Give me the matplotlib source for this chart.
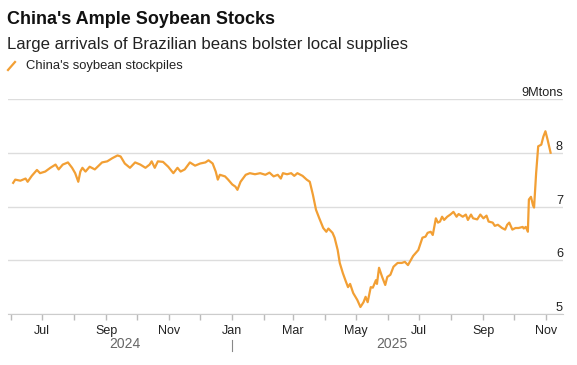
import matplotlib
matplotlib.use("Agg")
import matplotlib.pyplot as plt
import matplotlib.dates as mdates
import matplotlib.transforms as mtransforms
import numpy as np

plt.rcParams['font.family'] = ['Liberation Sans', 'DejaVu Sans']

# China's soybean stockpiles, million tons
dates = [
    "2024-06-03", "2024-06-05", "2024-06-10", "2024-06-15", "2024-06-17",
    "2024-06-21", "2024-06-26", "2024-06-29", "2024-07-04", "2024-07-09",
    "2024-07-14", "2024-07-17", "2024-07-21", "2024-07-26", "2024-07-30",
    "2024-08-02", "2024-08-05", "2024-08-07", "2024-08-09", "2024-08-12",
    "2024-08-16", "2024-08-21", "2024-08-28", "2024-09-02", "2024-09-07",
    "2024-09-12", "2024-09-15", "2024-09-19", "2024-09-24", "2024-09-29",
    "2024-10-04", "2024-10-09", "2024-10-13", "2024-10-15", "2024-10-18",
    "2024-10-21", "2024-10-26", "2024-10-31", "2024-11-05", "2024-11-09",
    "2024-11-12", "2024-11-16", "2024-11-21", "2024-11-26", "2024-12-01",
    "2024-12-06", "2024-12-09", "2024-12-13", "2024-12-16", "2024-12-18",
    "2024-12-20", "2024-12-25", "2024-12-28", "2025-01-01", "2025-01-04",
    "2025-01-06", "2025-01-09", "2025-01-14", "2025-01-18", "2025-01-23",
    "2025-01-28", "2025-02-02", "2025-02-06", "2025-02-10", "2025-02-14",
    "2025-02-17", "2025-02-19", "2025-02-23", "2025-02-27", "2025-03-02",
    "2025-03-05", "2025-03-10", "2025-03-14", "2025-03-17", "2025-03-20",
    "2025-03-23", "2025-03-26", "2025-03-30", "2025-04-02", "2025-04-04",
    "2025-04-08", "2025-04-10", "2025-04-13", "2025-04-15", "2025-04-18",
    "2025-04-21", "2025-04-23", "2025-04-25", "2025-04-28", "2025-05-02",
    "2025-05-05", "2025-05-08", "2025-05-10", "2025-05-12", "2025-05-15",
    "2025-05-17", "2025-05-20", "2025-05-21", "2025-05-23", "2025-05-26",
    "2025-05-29", "2025-05-31", "2025-06-03", "2025-06-06", "2025-06-10",
    "2025-06-14", "2025-06-17", "2025-06-20", "2025-06-25", "2025-06-30",
    "2025-07-04", "2025-07-07", "2025-07-09", "2025-07-12", "2025-07-14",
    "2025-07-16", "2025-07-17", "2025-07-19", "2025-07-21", "2025-07-23",
    "2025-07-25", "2025-07-28", "2025-07-31", "2025-08-03", "2025-08-06",
    "2025-08-08", "2025-08-12", "2025-08-15", "2025-08-17", "2025-08-20",
    "2025-08-22", "2025-08-26", "2025-08-29", "2025-09-01", "2025-09-04",
    "2025-09-06", "2025-09-10", "2025-09-12", "2025-09-15", "2025-09-19",
    "2025-09-22", "2025-09-24", "2025-09-26", "2025-09-29", "2025-10-02",
    "2025-10-05", "2025-10-09", "2025-10-10", "2025-10-12", "2025-10-14",
    "2025-10-15", "2025-10-17", "2025-10-19", "2025-10-20", "2025-10-22",
    "2025-10-24", "2025-10-27", "2025-10-29", "2025-10-31", "2025-11-02",
    "2025-11-05",
]
stocks = [
    7.44, 7.50, 7.48, 7.52, 7.46,
    7.57, 7.68, 7.62, 7.65, 7.72,
    7.78, 7.69, 7.78, 7.82, 7.72,
    7.62, 7.46, 7.65, 7.72, 7.65,
    7.74, 7.69, 7.82, 7.84, 7.90,
    7.95, 7.93, 7.80, 7.72, 7.82,
    7.78, 7.72, 7.78, 7.84, 7.72,
    7.84, 7.83, 7.74, 7.62, 7.72,
    7.65, 7.69, 7.82, 7.76, 7.80,
    7.82, 7.86, 7.80, 7.65, 7.50,
    7.59, 7.56, 7.50, 7.41, 7.37,
    7.31, 7.46, 7.59, 7.62, 7.60,
    7.62, 7.59, 7.63, 7.56, 7.59,
    7.52, 7.62, 7.60, 7.62, 7.57,
    7.62, 7.57, 7.50, 7.46, 7.22,
    6.94, 6.79, 6.60, 6.53, 6.59,
    6.51, 6.42, 6.19, 5.95, 5.76,
    5.60, 5.50, 5.56, 5.39, 5.26,
    5.13, 5.22, 5.32, 5.22, 5.50,
    5.49, 5.63, 5.56, 5.86, 5.69,
    5.54, 5.69, 5.73, 5.88, 5.95,
    5.95, 5.97, 5.91, 6.08, 6.19,
    6.42, 6.44, 6.51, 6.53, 6.47,
    6.68, 6.78, 6.70, 6.72, 6.81,
    6.75, 6.81, 6.85, 6.90, 6.81,
    6.86, 6.81, 6.85, 6.75, 6.85,
    6.78, 6.76, 6.85, 6.78, 6.83,
    6.72, 6.70, 6.64, 6.66, 6.60,
    6.57, 6.66, 6.70, 6.57, 6.60,
    6.60, 6.62, 6.59, 6.62, 6.53,
    7.13, 7.18, 7.02, 6.98, 7.62,
    8.12, 8.15, 8.30, 8.40, 8.25,
    8.00,
]

year_labels = ["2024", "2025"]
y_ticks = [5, 6, 7, 8, 9]

orange = "#F29F34"
dates = np.array(dates, dtype="datetime64[D]")

fig = plt.figure(figsize=(5.77, 3.65), dpi=100)
ax = fig.add_axes([8 / 577, 1 - 314 / 365, 555 / 577, 215 / 365])

ax.plot(dates, stocks, color=orange, lw=1.6, solid_joinstyle="round")

ax.set_ylim(5, 9)
ax.set_xlim(np.datetime64("2024-05-29"), np.datetime64("2025-11-17"))

# horizontal grid, labels sitting above the lines at the right edge
ax.set_yticks(y_ticks)
ax.set_yticklabels([])
ax.tick_params(axis="y", length=0)
ax.grid(axis="y", color="#dddddd", lw=1)
ax.set_axisbelow(True)
for v in y_ticks:
    lab = "9Mtons" if v == 9 else str(v)
    ax.text(1.0, v, lab, transform=ax.get_yaxis_transform(),
            ha="right", va="bottom", fontsize=9.2, color="#222222")

for s in ["top", "right", "left"]:
    ax.spines[s].set_visible(False)
ax.spines["bottom"].set_color("#cccccc")

ax.xaxis.set_major_locator(mdates.MonthLocator(bymonth=[1, 3, 5, 7, 9, 11]))
ax.xaxis.set_minor_locator(mdates.MonthLocator(bymonth=[2, 4, 6, 8, 10, 12]))
ax.xaxis.set_major_formatter(mdates.DateFormatter("%b"))
ax.tick_params(axis="x", which="both", color="#bbbbbb", length=4, width=1,
               labelsize=9, labelcolor="#222222", pad=4)

# year row below the months
tr = mtransforms.blended_transform_factory(ax.transData, fig.transFigure)
ax.text(np.datetime64("2024-09-19"), 1 - 344 / 365, year_labels[0], transform=tr,
        ha="center", va="center", fontsize=10, color="#666666")
ax.text(np.datetime64("2025-06-04"), 1 - 344 / 365, year_labels[1], transform=tr,
        ha="center", va="center", fontsize=10, color="#666666")
ax.plot([np.datetime64("2025-01-01")] * 2, [1 - 340 / 365, 1 - 351 / 365],
        transform=tr, color="#888888", lw=0.8, clip_on=False)

fig.text(7 / 577, 1 - 19 / 365, "China's Ample Soybean Stocks", fontsize=13,
         fontweight="bold", va="center", color="#111111")
fig.text(7 / 577, 1 - 44 / 365, "Large arrivals of Brazilian beans bolster local supplies",
         fontsize=12.1, va="center", color="#222222")
fig.lines.append(plt.Line2D([8 / 577, 15 / 577], [1 - 70 / 365, 1 - 62 / 365],
                            transform=fig.transFigure, color=orange, lw=1.6))
fig.text(26 / 577, 1 - 66 / 365, "China's soybean stockpiles", fontsize=9.4,
         va="center", color="#222222")

fig.savefig("out.png", dpi=100)
